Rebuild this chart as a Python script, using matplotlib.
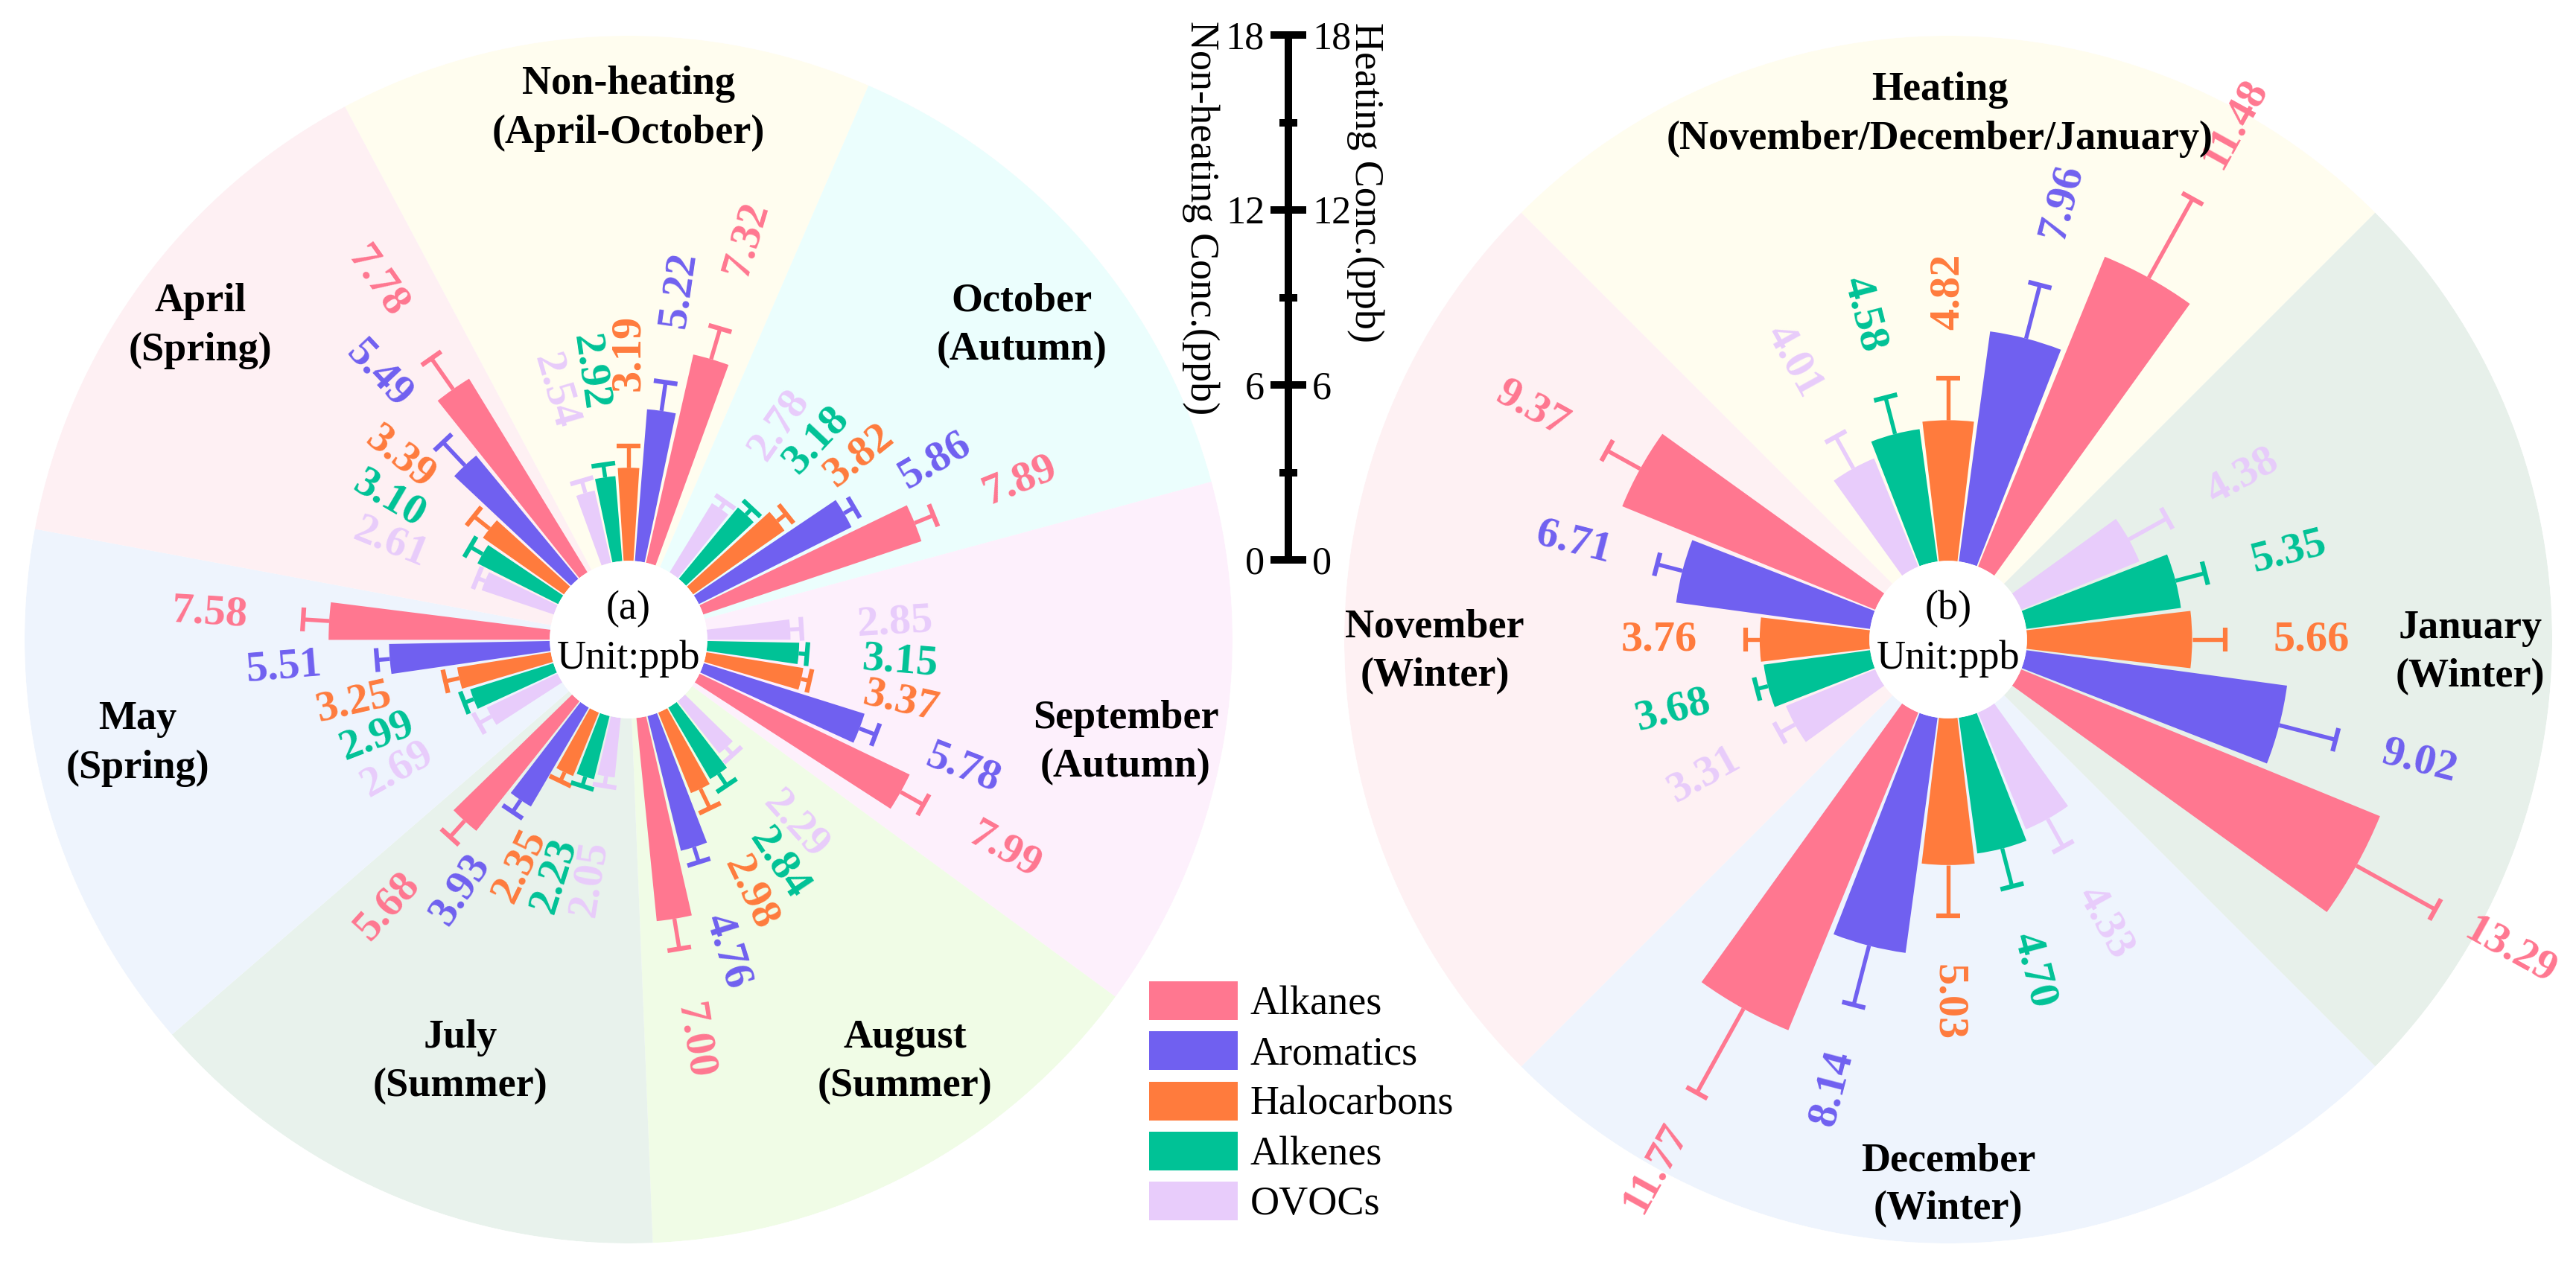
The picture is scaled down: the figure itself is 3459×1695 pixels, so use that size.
import numpy as np
import matplotlib.pyplot as plt
from matplotlib.patches import Patch

plt.rcParams['font.family'] = ['Liberation Serif', 'DejaVu Serif']

groups = ['Alkanes', 'Aromatics', 'Halocarbons', 'Alkenes', 'OVOCs']
colors = ['#FF7790', '#7060F0', '#FF7B3D', '#00C296', '#E8CCFB']

# (a) non-heating period, sectors clockwise from the top
nh_sectors = ['Non-heating\n(April-October)', 'October\n(Autumn)', 'September\n(Autumn)',
              'August\n(Summer)', 'July\n(Summer)', 'May\n(Spring)', 'April\n(Spring)']
nh_alkanes = [7.32, 7.89, 7.99, 7.00, 5.68, 7.58, 7.78]
nh_aromatics = [5.22, 5.86, 5.78, 4.76, 3.93, 5.51, 5.49]
nh_halocarbons = [3.19, 3.82, 3.37, 2.98, 2.35, 3.25, 3.39]
nh_alkenes = [2.92, 3.18, 3.15, 2.84, 2.23, 2.99, 3.10]
nh_ovocs = [2.54, 2.78, 2.85, 2.29, 2.05, 2.69, 2.61]
nh_alkanes_err = [1.1, 0.7, 0.9, 1.05, 0.75, 0.9, 1.3]
nh_aromatics_err = [1.0, 0.4, 0.6, 0.55, 0.5, 0.45, 1.1]
nh_halocarbons_err = [0.75, 0.4, 0.3, 0.75, 0.35, 0.5, 0.7]
nh_alkenes_err = [0.45, 0.3, 0.3, 0.5, 0.35, 0.35, 0.5]
nh_ovocs_err = [0.45, 0.3, 0.4, 0.35, 0.35, 0.5, 0.3]
nh_bg = ['#FFFDEF', '#EBFEFD', '#FDF0FC', '#F0FCE6', '#E8F2EC', '#EEF4FD', '#FEF0F3']

# (b) heating period
h_sectors = ['Heating\n(November/December/January)', 'January\n(Winter)',
             'December\n(Winter)', 'November\n(Winter)']
h_alkanes = [11.48, 13.29, 11.77, 9.37]
h_aromatics = [7.96, 9.02, 8.14, 6.71]
h_halocarbons = [4.82, 5.66, 5.03, 3.76]
h_alkenes = [4.58, 5.35, 4.70, 3.68]
h_ovocs = [4.01, 4.38, 4.33, 3.31]
h_alkanes_err = [3.1, 3.1, 3.3, 1.3]
h_aromatics_err = [1.9, 2.0, 2.1, 0.9]
h_halocarbons_err = [1.45, 1.15, 1.75, 0.5]
h_alkenes_err = [1.3, 1.05, 1.35, 0.4]
h_ovocs_err = [1.25, 1.5, 1.1, 0.6]
h_bg = ['#FFFDEF', '#E7F0EA', '#EEF4FD', '#FEF1F3']

RMAX = 18
HOLE = 2.7
W, H = 3459, 1695


def polar_bars(ax, sectors, vals, errs, bgs, step, width, lab_pos, lab_off, tag, bg_rot=0):
    n = len(sectors)
    centers = np.deg2rad(90 - np.arange(n) * 360 / n)
    ax.bar(centers + np.deg2rad(bg_rot), [RMAX] * n, width=2 * np.pi / n, bottom=0,
           color=bgs, edgecolor='none', zorder=0)
    scale = 811 / (RMAX + HOLE)  # pixels per ppb
    for k in range(5):
        c = colors[k]
        th = centers + np.deg2rad((k - 2) * step)
        ax.bar(th, vals[k], width=np.deg2rad(width), bottom=0, color=c,
               edgecolor='none', zorder=2)
        for t, v, e in zip(th, vals[k], errs[k]):
            top = v + e
            ax.plot([t, t], [v, top], color=c, lw=1.3, solid_capstyle='butt', zorder=2)
            dt = 16 / ((top + HOLE) * scale)
            ax.plot([t - dt, t + dt], [top, top], color=c, lw=1.5,
                    solid_capstyle='butt', zorder=2)
            deg = np.rad2deg(t) % 360
            rot = deg if (deg <= 90 or deg >= 270) else deg - 180
            ax.text(t, top + lab_off, f'{v:.2f}', color=c, rotation=rot,
                    rotation_mode='anchor', ha='center', va='center',
                    fontsize=14, fontweight='bold', zorder=3)
    for s, (a, r) in zip(sectors, lab_pos):
        ax.text(np.deg2rad(a), r, s, ha='center', va='center', fontsize=13,
                fontweight='bold', linespacing=1.4, zorder=3)
    ax.text(0.5, 0.525, tag, transform=ax.transAxes, ha='center', va='center', fontsize=13)
    ax.text(0.5, 0.484, 'Unit:ppb', transform=ax.transAxes, ha='center', va='center', fontsize=13)
    ax.set_ylim(0, RMAX)
    ax.set_rorigin(-HOLE)
    ax.set_axis_off()


fig = plt.figure(figsize=(W / 300, H / 300), dpi=300)

R = 811
ax1 = fig.add_axes([(844 - R) / W, (H - 859 - R) / H, 2 * R / W, 2 * R / H], projection='polar')
ax2 = fig.add_axes([(2616 - R) / W, (H - 859 - R) / H, 2 * R / W, 2 * R / H], projection='polar')

polar_bars(ax1, nh_sectors,
           [nh_alkanes, nh_aromatics, nh_halocarbons, nh_alkenes, nh_ovocs],
           [nh_alkanes_err, nh_aromatics_err, nh_halocarbons_err, nh_alkenes_err, nh_ovocs_err],
           nh_bg, 8.2, 7.2,
           [(90, 15.5), (38.6, 14.55), (-11.7, 14.7), (-56.8, 14.6), (-111.7, 12.9),
            (192, 14.5), (143.8, 15.5)], 3.2, '(a)', bg_rot=2.3)
polar_bars(ax2, h_sectors,
           [h_alkanes, h_aromatics, h_halocarbons, h_alkenes, h_ovocs],
           [h_alkanes_err, h_aromatics_err, h_halocarbons_err, h_alkenes_err, h_ovocs_err],
           h_bg, 14.5, 13.5,
           [(90.9, 15.3), (-1.4, 15.2), (-90, 16.0), (181.4, 14.9)], 2.95, '(b)')

# shared radial scale bar
axs = fig.add_axes([1730 / W, (H - 752) / H, 0.00005, 705 / H])
axs.set_ylim(0, RMAX)
axs.set_xticks([])
axs.set_yticks([0, 6, 12, 18])
axs.set_yticks([3, 9, 15], minor=True)
for name in ['top', 'bottom', 'right']:
    axs.spines[name].set_visible(False)
axs.spines['left'].set_linewidth(2.4)
axs.tick_params(axis='y', which='major', direction='inout', length=11.3, width=2.4,
                left=True, right=True, labelleft=True, labelright=True, labelsize=12.5, pad=2)
axs.tick_params(axis='y', which='minor', direction='inout', length=5.6, width=2.4,
                left=True, right=True)
axs.patch.set_visible(False)

fig.text(1612 / W, 1 - 293 / H, 'Non-heating Conc.(ppb)', rotation=-90, ha='center',
         va='center', fontsize=13)
fig.text(1833 / W, 1 - 245 / H, 'Heating Conc.(ppb)', rotation=-90, ha='center',
         va='center', fontsize=13)

handles = [Patch(facecolor=c, edgecolor='none', label=g) for g, c in zip(groups, colors)]
fig.legend(handles=handles, loc='upper left', bbox_to_anchor=(1543 / W, 1 - 1318 / H),
           frameon=False, fontsize=13, handlelength=2.2, handleheight=1.1,
           labelspacing=0.2, handletextpad=0.3, borderpad=0, borderaxespad=0)

fig.savefig('out.png', dpi=300)
